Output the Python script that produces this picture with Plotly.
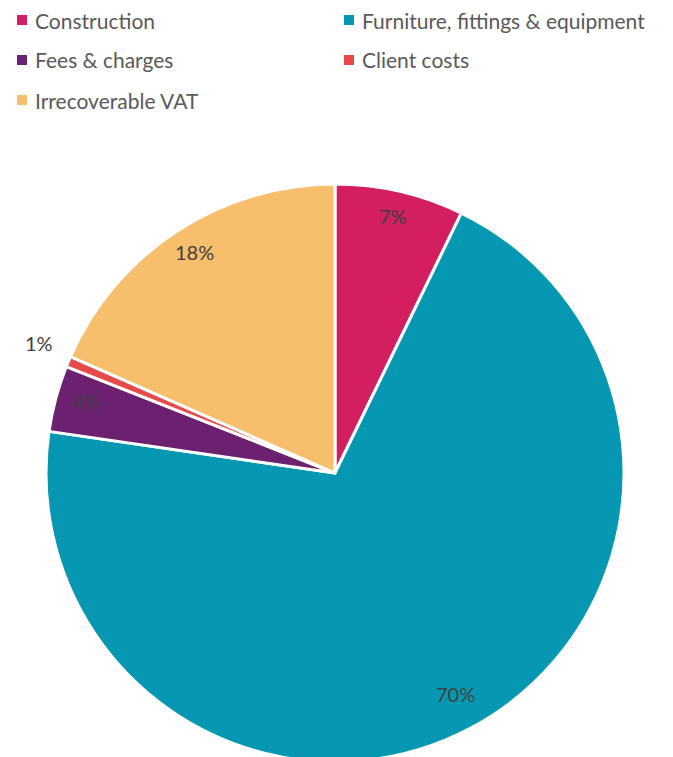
import math
import plotly.graph_objects as go

categories = ["Construction", "Furniture, fittings & equipment", "Fees & charges",
              "Client costs", "Irrecoverable VAT"]
values = [7.2, 70.1, 3.7, 0.6, 18.4]
colors = ["#D31F5F", "#0698B2", "#6B2170", "#E84A4A", "#F7BE6B"]

W, H = 673, 757
OFF = 8  # page body margin
cx, cy, R = 335 - OFF, 473 - OFF, 289  # pie centre / radius in px (top-left origin)

fig = go.Figure(go.Pie(
    labels=categories, values=values, sort=False, direction="clockwise", rotation=0,
    marker=dict(colors=colors, line=dict(color="white", width=3)),
    textinfo="none", hoverinfo="label+percent", showlegend=False,
    domain=dict(x=[(cx - R) / W, (cx + R) / W],
                y=[max(0.0, (H - cy - R) / H), min(1.0, (H - cy + R) / H)]),
))

# data labels computed from the slice angles
total = sum(values)
cum = 0.0
annotations = []
for v in values:
    mid = (cum + v / 2) / total * 2 * math.pi
    cum += v
    frac = v / total
    r = 0.89 * R if frac > 0.02 else 1.11 * R
    x = cx + r * math.sin(mid)
    y = cy - r * math.cos(mid)
    annotations.append(dict(x=x / W, y=1 - y / H, xref="paper", yref="paper",
                            xanchor="center", yanchor="middle", yshift=6,
                            text=f"{round(frac * 100)}%", showarrow=False,
                            font=dict(family="Lato", size=20, color="#404040")))

# legend (two columns, three rows)
shapes = []
leg_x = [17 - OFF, 344 - OFF]
leg_y = [20 - OFF, 60 - OFF, 100 - OFF]
for i, (name, col) in enumerate(zip(categories, colors)):
    lx = leg_x[i % 2]
    ly = leg_y[i // 2]
    shapes.append(dict(type="rect", xref="paper", yref="paper",
                       x0=lx / W, x1=(lx + 10) / W, y0=1 - (ly + 5) / H, y1=1 - (ly - 5) / H,
                       fillcolor=col, line=dict(width=0)))
    annotations.append(dict(x=(lx + 17) / W, y=1 - ly / H, xref="paper", yref="paper",
                            xanchor="left", yanchor="middle", borderpad=0,
                            text=name, showarrow=False,
                            font=dict(family="Lato", size=21, color="#595959")))

fig.update_layout(width=W, height=H, margin=dict(l=0, r=0, t=0, b=0),
                  paper_bgcolor="white", plot_bgcolor="white",
                  annotations=annotations, shapes=shapes, showlegend=False)
fig.write_html("out.html")
